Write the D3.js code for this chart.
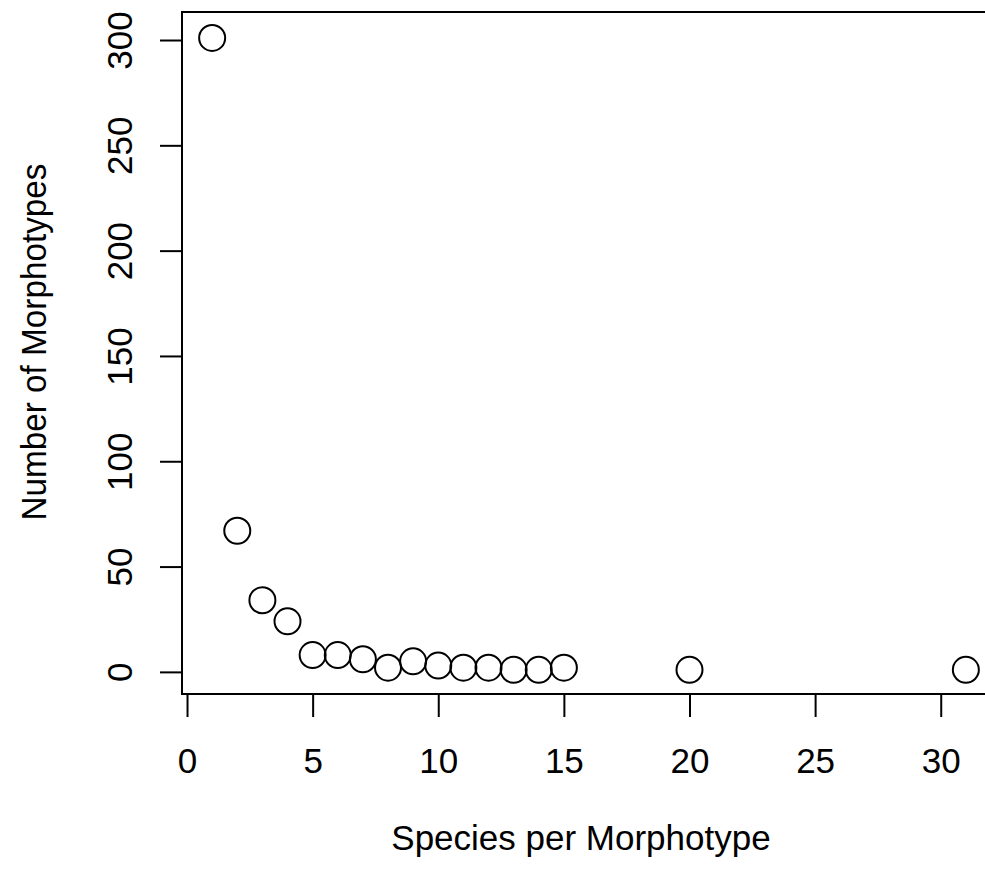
<!DOCTYPE html>
<html>
<head>
<meta charset="utf-8">
<script src="https://cdn.jsdelivr.net/npm/d3@7"></script>
<style>
  html, body { margin: 0; padding: 0; background: #fff; }
  svg { display: block; }
</style>
</head>
<body>
<svg id="chart" width="985" height="871"></svg>
<script>
// species per morphotype (x) and how many morphotypes have that count (y)
const speciesPerMorphotype = [1, 2, 3, 4, 5, 6, 7, 8, 9, 10, 11, 12, 13, 14, 15, 20, 31];
const numMorphotypes = [301, 67, 34, 24, 8, 8, 6, 2, 5, 3, 2, 2, 1, 1, 2, 1, 1];
const xTicks = [0, 5, 10, 15, 20, 25, 30];
const yTicks = [0, 50, 100, 150, 200, 250, 300];

const fontFamily = '"Liberation Sans", Arial, Helvetica, sans-serif';
const fontSize = 35;

const svg = d3.select('#chart');

// plot region (R style: data range padded by ~4%)
const x = d3.scaleLinear().domain([-0.2, 32.2]).range([182, 996]);
const y = d3.scaleLinear().domain([-10.5, 313.3]).range([694, 12]);

//x axis
const xAxis = svg.append('g')
    .attr('transform', 'translate(0,' + y.range()[0] + ')')
    .call(d3.axisBottom(x).tickValues(xTicks).tickSize(23).tickFormat(d3.format('d')));
xAxis.select('.domain').remove();
xAxis.selectAll('.tick line').attr('stroke', '#000').attr('stroke-width', 2);
xAxis.selectAll('.tick text')
    .attr('y', 79)
    .attr('dy', null)
    .attr('fill', '#000')
    .attr('font-family', fontFamily)
    .attr('font-size', fontSize);

//y axis
const yAxis = svg.append('g')
    .attr('transform', 'translate(' + x.range()[0] + ',0)')
    .call(d3.axisLeft(y).tickValues(yTicks).tickSize(22).tickFormat(d3.format('d')));
yAxis.select('.domain').remove();
yAxis.selectAll('.tick line').attr('stroke', '#000').attr('stroke-width', 2);
yAxis.selectAll('.tick text')
    .attr('transform', 'rotate(-90)')
    .attr('x', 0)
    .attr('y', -50)
    .attr('dy', null)
    .attr('text-anchor', 'middle')
    .attr('fill', '#000')
    .attr('font-family', fontFamily)
    .attr('font-size', fontSize);

//plot box
svg.append('rect')
    .attr('x', x.range()[0])
    .attr('y', y.range()[1])
    .attr('width', x.range()[1] - x.range()[0])
    .attr('height', y.range()[0] - y.range()[1])
    .style('fill', 'none')
    .style('stroke', '#000')
    .style('stroke-width', 2);

//points
svg.append('g')
    .selectAll('circle')
    .data(speciesPerMorphotype.map((s, i) => ({ s: s, n: numMorphotypes[i] })))
    .join('circle')
    .attr('cx', d => x(d.s))
    .attr('cy', d => y(d.n))
    .attr('r', 13)
    .style('fill', 'none')
    .style('stroke', '#000')
    .style('stroke-width', 2);

//axis titles
svg.append('text')
    .text('Species per Morphotype')
    .attr('x', 581)
    .attr('y', 850)
    .attr('text-anchor', 'middle')
    .attr('fill', '#000')
    .attr('font-family', fontFamily)
    .attr('font-size', fontSize);

svg.append('text')
    .text('Number of Morphotypes')
    .attr('transform', 'translate(46,342) rotate(-90)')
    .attr('text-anchor', 'middle')
    .attr('textLength', 357)
    .attr('lengthAdjust', 'spacingAndGlyphs')
    .attr('fill', '#000')
    .attr('font-family', fontFamily)
    .attr('font-size', fontSize);
</script>
</body>
</html>
